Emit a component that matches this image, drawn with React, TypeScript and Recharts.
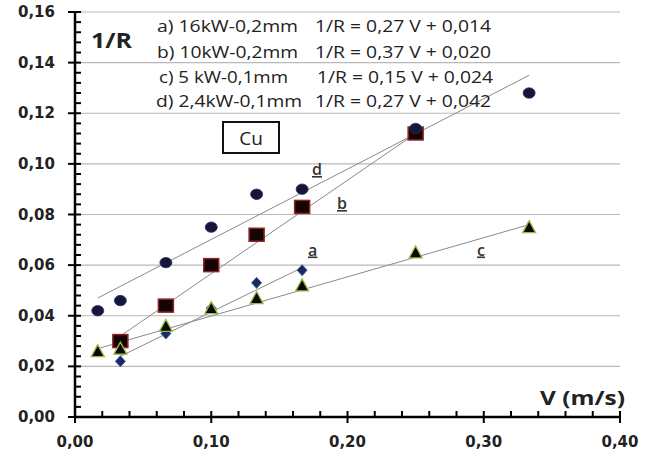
import React from 'react';
import { ScatterChart, Scatter, XAxis, YAxis, CartesianGrid } from 'recharts';

// cutting speed V (m/s) at which each series was measured
const speedsAll = [0.0167, 0.0333, 0.0667, 0.1, 0.1333, 0.1667, 0.25, 0.3333];
const speedsB = [0.0333, 0.0667, 0.1, 0.1333, 0.1667, 0.25];
const speedsA = [0.0333, 0.0667, 0.1, 0.1333, 0.1667];

// 1/R values
const valuesA = [0.022, 0.033, 0.043, 0.053, 0.058];
const valuesB = [0.03, 0.044, 0.06, 0.072, 0.083, 0.112];
const valuesC = [0.026, 0.027, 0.036, 0.043, 0.047, 0.052, 0.065, 0.075];
const valuesD = [0.042, 0.046, 0.061, 0.075, 0.088, 0.09, 0.114, 0.128];

// end points of the fitted lines
const fitAx = [0.0333, 0.1667];
const fitAy = [0.024, 0.059];
const fitBx = [0.0333, 0.25];
const fitBy = [0.032, 0.112];
const fitCx = [0.0167, 0.3333];
const fitCy = [0.027, 0.076];
const fitDx = [0.0167, 0.3333];
const fitDy = [0.047, 0.135];

const xTicks = [0, 0.02, 0.04, 0.06, 0.08, 0.1, 0.12, 0.14, 0.16, 0.18, 0.2, 0.22, 0.24, 0.26, 0.28, 0.3, 0.32, 0.34, 0.36, 0.38, 0.4];
const xLabelTicks = [0, 0.1, 0.2, 0.3, 0.4];
const yTicks = [
  0, 0.004, 0.008, 0.012, 0.016, 0.02, 0.024, 0.028, 0.032, 0.036, 0.04, 0.044, 0.048, 0.052, 0.056,
  0.06, 0.064, 0.068, 0.072, 0.076, 0.08, 0.084, 0.088, 0.092, 0.096, 0.1, 0.104, 0.108, 0.112, 0.116,
  0.12, 0.124, 0.128, 0.132, 0.136, 0.14, 0.144, 0.148, 0.152, 0.156, 0.16,
];
const yLabelTicks = [0, 0.02, 0.04, 0.06, 0.08, 0.1, 0.12, 0.14, 0.16];

const legendLabels = ['a) 16kW-0,2mm', 'b) 10kW-0,2mm', 'c) 5 kW-0,1mm', 'd) 2,4kW-0,1mm'];
const legendEquations = ['1/R = 0,27 V + 0,014', '1/R = 0,37 V + 0,020', '1/R = 0,15 V + 0,024', '1/R = 0,27 V + 0,042'];

const toPoints = (xs: number[], ys: number[]) => xs.map((x, i) => ({ x, y: ys[i] }));

const isMajor = (v: number, majors: number[]) => majors.some((m) => Math.abs(m - v) < 1e-6);
const fmt = (v: number) => v.toFixed(2).replace('.', ',');

const tickFont = { fontFamily: '"DejaVu Sans", sans-serif', fontWeight: 700, fontSize: 15, fill: '#222' };

const YTick = (props: any) => {
  const { x, y, payload } = props;
  const major = isMajor(payload.value, yLabelTicks);
  return (
    <g>
      <path d={`M${major ? x - 7 : x},${y}H${x + 6}`} stroke="#000" strokeWidth={2} fill="none" />
      {major && (
        <text x={x - 20} y={y} textAnchor="end" dominantBaseline="central" style={tickFont}>
          {fmt(payload.value)}
        </text>
      )}
    </g>
  );
};

const XTick = (props: any) => {
  const { x, y, payload } = props;
  const major = isMajor(payload.value, xLabelTicks);
  return (
    <g>
      <path d={`M${x},${y - 6}V${major ? y + 6 : y}`} stroke="#000" strokeWidth={2} fill="none" />
      {major && (
        <text x={x} y={y + 30} textAnchor="middle" style={tickFont}>
          {fmt(payload.value)}
        </text>
      )}
    </g>
  );
};

const Circle = (props: any) => (
  <ellipse cx={props.cx} cy={props.cy} rx={6} ry={5.2} fill="#15163a" stroke="#2a2c5c" strokeWidth={0.8} />
);
const Square = (props: any) => (
  <rect x={props.cx - 7.5} y={props.cy - 6.5} width={15} height={13} fill="#140404" stroke="#8e2424" strokeWidth={1.5} />
);
const Diamond = (props: any) => {
  const { cx, cy } = props;
  return (
    <path d={`M${cx},${cy - 5.5} L${cx + 5},${cy} L${cx},${cy + 5.5} L${cx - 5},${cy} Z`} fill="#1b2a5c" stroke="#3c64a8" strokeWidth={1} />
  );
};
const Triangle = (props: any) => {
  const { cx, cy } = props;
  return (
    <path d={`M${cx},${cy - 6.5} L${cx + 6.5},${cy + 5.5} L${cx - 6.5},${cy + 5.5} Z`} fill="#0a0a0a" stroke="#9bbb45" strokeWidth={1.3} />
  );
};
const NoShape = () => <g />;

const fitLine = { stroke: '#8a8a8a', strokeWidth: 1 };
const noteFont = { fontFamily: '"Open Sans", sans-serif', fontSize: 16, fill: '#222' };
const letterFont = { fontFamily: '"Open Sans", sans-serif', fontSize: 16, fontWeight: 600, fill: '#333', textDecoration: 'underline' };

const App: React.FC = () => {
  const rowBaselines = [32, 58, 82.5, 107];
  const labelStarts = [157, 157, 159, 156];
  const labelWidths = [141, 141, 129, 146];
  const eqStarts = [315, 315, 317, 315];

  return (
    <div style={{ position: 'absolute', left: 0, top: 0, width: 657, height: 456, background: '#fff' }}>
      <ScatterChart width={657} height={456} margin={{ top: 12, right: 37, bottom: 0, left: 0 }}>
        <CartesianGrid vertical={false} horizontalValues={yLabelTicks} stroke="#b9b9b9" strokeWidth={1.2} />
        <XAxis
          type="number"
          dataKey="x"
          domain={[0, 0.4]}
          ticks={xTicks}
          interval={0}
          height={39}
          tickSize={0}
          tickMargin={0}
          tickLine={false}
          tick={<XTick />}
          axisLine={{ stroke: '#000', strokeWidth: 2.5 }}
        />
        <YAxis
          type="number"
          dataKey="y"
          domain={[0, 0.16]}
          ticks={yTicks}
          interval={0}
          width={75}
          tickSize={0}
          tickMargin={0}
          tickLine={false}
          tick={<YTick />}
          axisLine={{ stroke: '#000', strokeWidth: 2.5 }}
        />
        <Scatter data={toPoints(fitDx, fitDy)} line={fitLine} shape={NoShape} isAnimationActive={false} />
        <Scatter data={toPoints(fitBx, fitBy)} line={fitLine} shape={NoShape} isAnimationActive={false} />
        <Scatter data={toPoints(fitAx, fitAy)} line={fitLine} shape={NoShape} isAnimationActive={false} />
        <Scatter data={toPoints(fitCx, fitCy)} line={fitLine} shape={NoShape} isAnimationActive={false} />
        <Scatter data={toPoints(speedsA, valuesA)} shape={Diamond} isAnimationActive={false} />
        <Scatter data={toPoints(speedsB, valuesB)} shape={Square} isAnimationActive={false} />
        <Scatter data={toPoints(speedsAll, valuesC)} shape={Triangle} isAnimationActive={false} />
        <Scatter data={toPoints(speedsAll, valuesD)} shape={Circle} isAnimationActive={false} />
      </ScatterChart>

      <svg width={657} height={456} style={{ position: 'absolute', left: 0, top: 0, pointerEvents: 'none' }}>
        <text x={91} y={48} textLength={41} lengthAdjust="spacingAndGlyphs"
          style={{ fontFamily: '"Open Sans", sans-serif', fontWeight: 700, fontSize: 21, fill: '#222' }}>
          1/R
        </text>
        <text x={540} y={405} textLength={85} lengthAdjust="spacingAndGlyphs"
          style={{ fontFamily: '"Open Sans", sans-serif', fontWeight: 700, fontSize: 19, fill: '#222' }}>
          V (m/s)
        </text>
        {legendLabels.map((label, i) => (
          <g key={label}>
            <text x={labelStarts[i]} y={rowBaselines[i]} textLength={labelWidths[i]} lengthAdjust="spacingAndGlyphs" style={noteFont}>
              {label}
            </text>
            <text x={eqStarts[i]} y={rowBaselines[i]} textLength={176} lengthAdjust="spacingAndGlyphs" style={noteFont}>
              {legendEquations[i]}
            </text>
          </g>
        ))}
        <rect x={223} y={122} width={56} height={31} fill="#fff" stroke="#111" strokeWidth={2} />
        <text x={251} y={145} textAnchor="middle" style={{ fontFamily: '"Open Sans", sans-serif', fontSize: 19, fill: '#222' }}>
          Cu
        </text>
        <text x={312} y={175} style={letterFont}>d</text>
        <text x={337} y={209} style={letterFont}>b</text>
        <text x={308} y={255.5} style={letterFont}>a</text>
        <text x={477} y={255.5} style={letterFont}>c</text>
      </svg>
    </div>
  );
};

export default App;
